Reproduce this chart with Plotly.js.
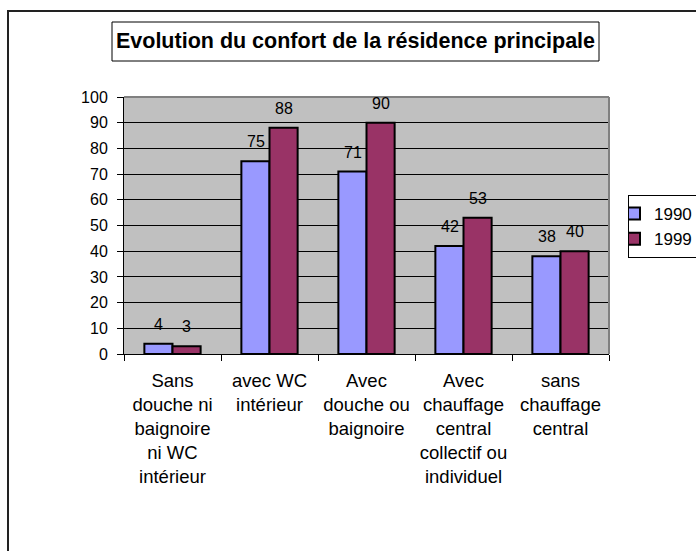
<!DOCTYPE html>
<html>
<head>
<meta charset="utf-8">
<script src="https://cdn.plot.ly/plotly-3.0.1.min.js"></script>
<style>
html,body{margin:0;padding:0;background:#fff;}
#chart{width:696px;height:551px;}
</style>
</head>
<body>
<div id="chart"></div>
<script>
var categories = [
  "Sans<br>douche ni<br>baignoire<br>ni WC<br>intérieur",
  "avec WC<br>intérieur",
  "Avec<br>douche ou<br>baignoire",
  "Avec<br>chauffage<br>central<br>collectif ou<br>individuel",
  "sans<br>chauffage<br>central"
];
var seriesNames = ["1990", "1999"];
var values1990 = [4, 75, 71, 42, 38];
var values1999 = [3, 88, 90, 53, 40];
var seriesColors = ["#9999FF", "#993366"];
var titleText = "Evolution du confort de la résidence principale";

var FONT = "Arial, 'Liberation Sans', sans-serif";
var W = 696, H = 551;
var L = 124, R = 87, T = 97, B = 197;
var pw = W - L - R, ph = H - T - B;
function px2x(p){ return (p - L) / pw; }
function px2y(p){ return (H - B - p) / ph; }

var allVals = [values1990, values1999];
var traces = allVals.map(function(v, i){
  return {
    type: "bar",
    name: seriesNames[i],
    x: categories,
    y: v,
    marker: {color: seriesColors[i], line: {color: "#000", width: 2}},
    hoverinfo: "skip"
  };
});

var annotations = [];
allVals.forEach(function(v, i){
  v.forEach(function(val, j){
    annotations.push({
      x: categories[j], y: val, xref: "x", yref: "y",
      text: String(val), showarrow: false,
      xanchor: "center", yanchor: "bottom",
      xshift: i === 0 ? -14 : 14, yshift: 9,
      font: {family: FONT, size: 16, color: "#000"}
    });
  });
});

var layout = {
  width: W, height: H,
  margin: {l: L, r: R, t: T, b: B, pad: 0, autoexpand: false},
  paper_bgcolor: "#fff",
  plot_bgcolor: "#C0C0C0",
  barmode: "group",
  bargap: 0.42,
  bargroupgap: 0,
  font: {family: FONT, color: "#000"},
  title: {
    text: "<b>" + titleText + "</b>",
    font: {family: FONT, size: 21.5, color: "#000"},
    xref: "container", yref: "container",
    x: 355.5 / W, y: 1 - 40.5 / H,
    xanchor: "center", yanchor: "middle"
  },
  xaxis: {
    type: "category",
    showline: true, linecolor: "#000", linewidth: 1,
    ticks: "outside", tickson: "boundaries", ticklen: 6, tickcolor: "#000", tickwidth: 1,
    tickfont: {family: FONT, size: 18.5, color: "#000"},
    tickangle: 0, automargin: false,
    showgrid: false, zeroline: false,
    ticklabelstandoff: 10,
    fixedrange: true
  },
  yaxis: {
    range: [0, 100], dtick: 10,
    showline: true, linecolor: "#000", linewidth: 1,
    ticks: "outside", ticklen: 6, tickcolor: "#000", tickwidth: 1,
    tickfont: {family: FONT, size: 16, color: "#000"},
    showgrid: true, gridcolor: "#000", gridwidth: 1,
    zeroline: false, automargin: false,
    ticklabelstandoff: 6,
    fixedrange: true
  },
  legend: {
    x: px2x(628), y: px2y(195), xanchor: "left", yanchor: "top",
    bgcolor: "#fff", bordercolor: "#000", borderwidth: 1,
    font: {family: FONT, size: 17, color: "#000"},
    indentation: -15,
    tracegroupgap: 0
  },
  showlegend: true,
  annotations: annotations,
  shapes: [
    {type: "rect", xref: "paper", yref: "paper",
     x0: px2x(8), x1: px2x(W + 100), y0: px2y(H + 100), y1: px2y(11),
     line: {color: "#222", width: 2}, fillcolor: "rgba(0,0,0,0)", layer: "below"},
    {type: "rect", xref: "paper", yref: "paper",
     x0: px2x(112), x1: px2x(599), y0: px2y(61), y1: px2y(22),
     line: {color: "#000", width: 1}, fillcolor: "rgba(0,0,0,0)", layer: "above"},
    {type: "line", xref: "paper", yref: "paper", x0: 0, x1: 1, y0: 1, y1: 1,
     line: {color: "#808080", width: 2}, layer: "above"},
    {type: "line", xref: "paper", yref: "paper", x0: 1, x1: 1, y0: 0, y1: 1,
     line: {color: "#808080", width: 2}, layer: "above"}
  ]
};

Plotly.newPlot("chart", traces, layout, {displayModeBar: false, staticPlot: true});
</script>
</body>
</html>
